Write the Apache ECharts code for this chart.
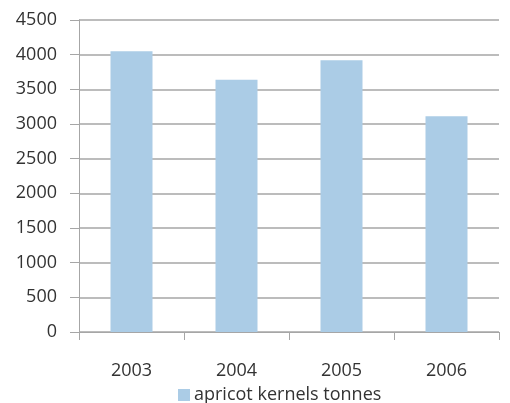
<!DOCTYPE html>
<html>
<head>
<meta charset="utf-8">
<script src="https://cdn.jsdelivr.net/npm/echarts@6/dist/echarts.min.js"></script>
<style>html,body{margin:0;padding:0;background:#fff}#c{width:510px;height:403px}</style>
</head>
<body>
<div id="c"></div>
<script>
const categories = ['2003', '2004', '2005', '2006'];
const apricotKernelsTonnes = [4050, 3640, 3920, 3110];
const seriesName = 'apricot kernels tonnes';

const chart = echarts.init(document.getElementById('c'), null, {renderer: 'canvas'});
const lineColor = '#a6a6a6';
const font = "'Open Sans', sans-serif";
chart.setOption({
  animation: false,
  grid: {left: 79, right: 11, top: 20, bottom: 71, containLabel: false},
  legend: {
    top: 381, left: 173,
    itemWidth: 12, itemHeight: 12, itemGap: 10,
    icon: 'rect',
    textStyle: {fontFamily: font, fontSize: 18, color: '#333', padding: [0,0,0,-1]},
    data: [seriesName]
  },
  xAxis: {
    type: 'category', data: categories,
    axisLine: {lineStyle: {color: lineColor, width: 1}},
    axisTick: {show: true, length: 8, lineStyle: {color: lineColor}},
    axisLabel: {fontFamily: font, fontSize: 18, color: '#333', margin: 30}
  },
  yAxis: {
    type: 'value', min: 0, max: 4500, interval: 500,
    axisLine: {show: true, lineStyle: {color: lineColor, width: 1}},
    axisTick: {show: true, length: 9, lineStyle: {color: lineColor}},
    splitLine: {lineStyle: {color: lineColor, width: 1.5}},
    axisLabel: {fontFamily: font, fontSize: 18, color: '#333', margin: 22, formatter: v => String(v)}
  },
  series: [{
    name: seriesName, type: 'bar', data: apricotKernelsTonnes,
    barWidth: '40%',
    itemStyle: {color: '#abcce6'}
  }]
});
</script>
</body>
</html>
